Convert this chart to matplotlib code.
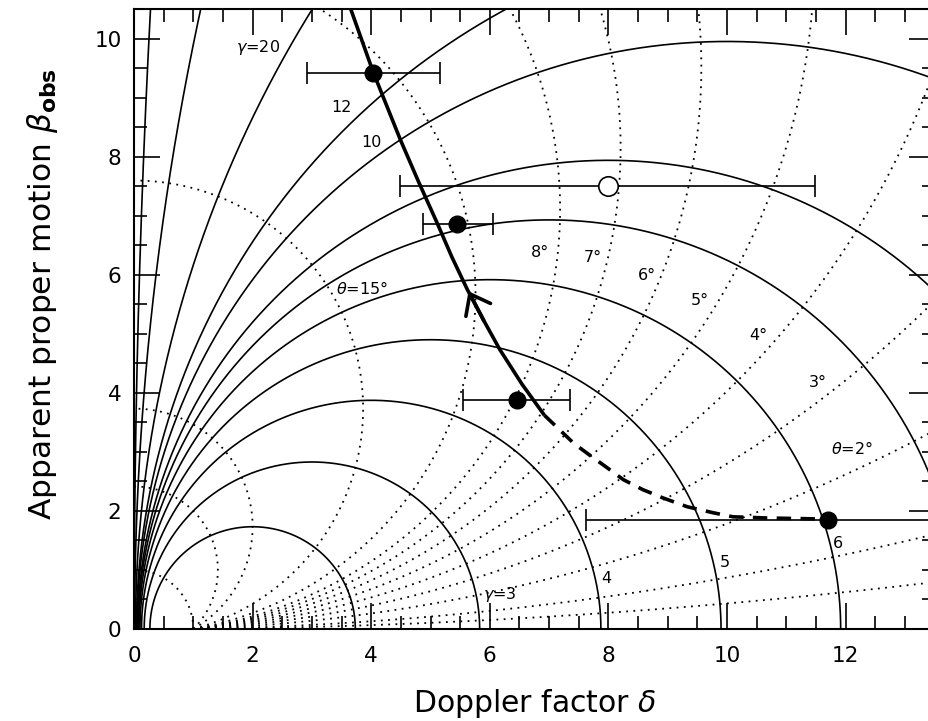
import numpy as np
import matplotlib
matplotlib.use('Agg')
import matplotlib.pyplot as plt

plt.rcParams['font.family'] = ['DejaVu Sans']
plt.rcParams['mathtext.fontset'] = 'dejavusans'

# Lorentz factors (solid circles) and viewing angles in degrees (dotted circles)
gammas = [2, 3, 4, 5, 6, 7, 8, 10, 12, 20, 50, 200]
thetas = [0.5, 1, 2, 3, 4, 5, 6, 7, 8, 10, 15, 30, 45, 90]

# component track (Doppler factor, apparent speed)
track_solid_d = [3.64, 4.03, 4.49, 4.80, 5.11, 5.36, 5.62, 5.90, 6.17, 6.54, 6.92]
track_solid_b = [10.54, 9.44, 8.29, 7.57, 6.88, 6.30, 5.75, 5.22, 4.73, 4.15, 3.62]
track_dash_d = [6.92, 7.15, 7.42, 7.69, 7.98, 8.25, 8.58, 8.92, 9.33, 9.76, 10.10, 10.67, 11.23, 11.70]
track_dash_b = [3.62, 3.40, 3.14, 2.94, 2.73, 2.53, 2.36, 2.22, 2.07, 1.97, 1.90, 1.88, 1.87, 1.86]

# measured components: delta, beta_obs, delta lower / upper limits
filled_d = [4.03, 5.45, 6.46, 11.70]
filled_b = [9.42, 6.86, 3.88, 1.85]
filled_lo = [2.92, 4.87, 5.55, 7.62]
filled_hi = [5.16, 6.05, 7.35, 15.80]
open_d = [7.99]
open_b = [7.51]
open_lo = [4.49]
open_hi = [11.48]

# curve labels
gamma_labels = [r'$\gamma$=20', '12', '10', r'$\gamma$=3', '4', '5', '6']
gamma_label_x = [2.09, 3.50, 4.00, 6.17, 7.97, 9.97, 11.87]
gamma_label_y = [9.85, 8.83, 8.24, 0.59, 0.85, 1.12, 1.44]
theta_labels = [r'$\theta$=15°', '8°', '7°', '6°', '5°', '4°', '3°', r'$\theta$=2°']
theta_label_x = [3.84, 6.85, 7.74, 8.65, 9.54, 10.52, 11.53, 12.11]
theta_label_y = [5.76, 6.37, 6.29, 5.98, 5.56, 4.97, 4.17, 3.05]

fig = plt.figure(figsize=(9.29, 7.21), dpi=100)
ax = fig.add_axes([134 / 929, 92 / 721, 800.6 / 929, 620 / 721])

# constant gamma: circles centred on (gamma, 0), radius sqrt(gamma^2 - 1)
phi = np.linspace(0, np.pi, 20001)
for g in gammas:
    r = np.sqrt(g * g - 1.0)
    ax.plot(g - r * np.cos(phi), r * np.sin(phi), color='black', lw=1.2, zorder=2)

# constant theta: circles centred on (0, cot theta), radius 1/sin theta
for th in thetas:
    t = np.radians(th)
    R = 1.0 / np.sin(t)
    c = np.cos(t) / np.sin(t)
    psi = np.linspace(t - np.pi / 2, np.pi / 2, 40001)
    ax.plot(R * np.cos(psi), c + R * np.sin(psi), color='black', lw=1.3,
            linestyle=(0, (1, 3)), zorder=1)

# track
ax.plot(track_solid_d, track_solid_b, color='black', lw=2.6, zorder=4,
        solid_capstyle='butt', solid_joinstyle='round')
ax.plot(track_dash_d, track_dash_b, color='black', lw=2.6, zorder=4,
        linestyle=(0, (4, 2.6)))
ax.annotate('', xy=(5.64, 5.72), xytext=(5.90, 5.22),
            arrowprops=dict(arrowstyle='->,head_length=0.65,head_width=0.5',
                            lw=2.6, color='black', shrinkA=0, shrinkB=0,
                            mutation_scale=20), zorder=5)

# data points
fd = np.array(filled_d)
ax.errorbar(fd, filled_b, xerr=[fd - np.array(filled_lo), np.array(filled_hi) - fd],
            fmt='o', color='black', ms=12, lw=1.2, capsize=8, capthick=1.2, zorder=6)
od = np.array(open_d)
ax.errorbar(od, open_b, xerr=[od - np.array(open_lo), np.array(open_hi) - od],
            fmt='o', color='black', mfc='white', mec='black', mew=1.2, ms=14,
            lw=1.2, capsize=8, capthick=1.2, zorder=6)

for s, x, y in zip(gamma_labels, gamma_label_x, gamma_label_y):
    ax.text(x, y, s, fontsize=11.5, ha='center', va='center', zorder=7)
for s, x, y in zip(theta_labels, theta_label_x, theta_label_y):
    ax.text(x, y, s, fontsize=11.5, ha='center', va='center', zorder=7)

ax.set_xlim(0, 13.5)
ax.set_ylim(0, 10.5)
ax.set_xticks([0, 2, 4, 6, 8, 10, 12])
ax.set_yticks([0, 2, 4, 6, 8, 10])
ax.set_xticks(np.arange(0, 13.6, 0.5), minor=True)
ax.set_yticks(np.arange(0, 10.6, 0.5), minor=True)
ax.tick_params(which='both', direction='in', top=True, right=True, width=1.2)
ax.tick_params(which='major', length=19, labelsize=15.5)
ax.tick_params(axis='x', which='major', pad=12)
ax.tick_params(axis='y', which='major', pad=9)
ax.tick_params(which='minor', length=9.5)
for sp in ax.spines.values():
    sp.set_linewidth(1.5)

ax.set_xlabel(r'Doppler factor $\delta$', fontsize=21.5)
ax.set_ylabel(r'Apparent proper motion $\beta_{\bf obs}$', fontsize=22.5)
ax.xaxis.set_label_coords(0.5, -0.093)
ax.yaxis.set_label_coords(-0.093, 0.54)

fig.savefig('out.png', dpi=100)
